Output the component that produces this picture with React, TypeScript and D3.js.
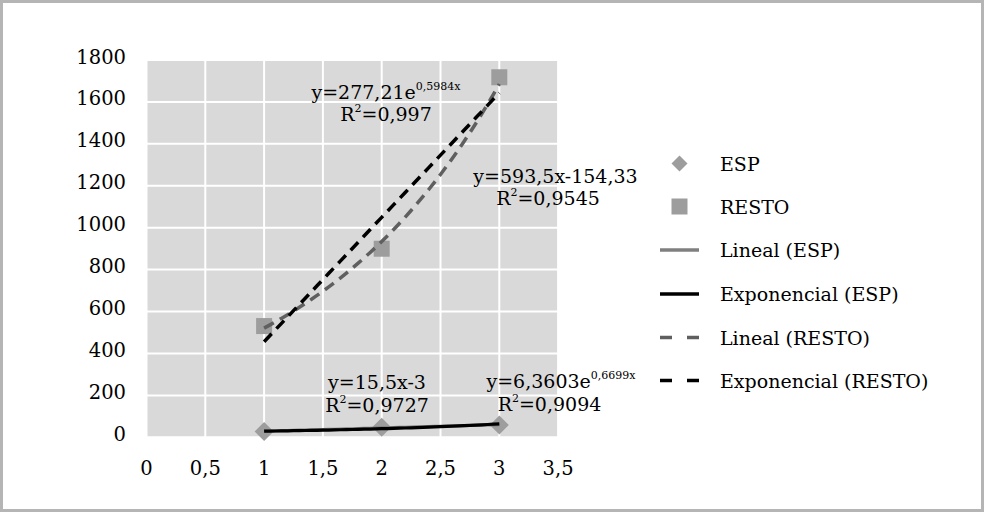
import React from "react";
import * as d3 from "d3";

const xValues = [1, 2, 3];
const espValues = [11, 31, 42];
const restoValues = [514, 883, 1701];
const yTicks = [0, 200, 400, 600, 800, 1000, 1200, 1400, 1600, 1800];
const xTicks = [0, 0.5, 1, 1.5, 2, 2.5, 3, 3.5];
const xTickLabels = ["0", "0,5", "1", "1,5", "2", "2,5", "3", "3,5"];
const legendLabels = ["ESP", "RESTO", "Lineal (ESP)", "Exponencial (ESP)", "Lineal (RESTO)", "Exponencial (RESTO)"];

const W = 984;
const H = 512;
const FONT = "'DejaVu Serif', serif";

function linFit(xs: number[], ys: number[]) {
  const mx = d3.mean(xs)!;
  const my = d3.mean(ys)!;
  let num = 0, den = 0;
  xs.forEach((x, i) => { num += (x - mx) * (ys[i] - my); den += (x - mx) ** 2; });
  const b = num / den;
  const a = my - b * mx;
  return (x: number) => a + b * x;
}
function expFit(xs: number[], ys: number[]) {
  const f = linFit(xs, ys.map((v) => Math.log(v)));
  return (x: number) => Math.exp(f(x));
}

export default function App() {
  const x = d3.scaleLinear().domain([0, 3.5]).range([146.5, 558.1]);
  const y = d3.scaleLinear().domain([0, 1800]).range([437.3, 60]);
  const shift = -3.5;

  const samples = d3.range(0, 41).map((i) => 1 + (i * 2) / 40);
  const lineGen = (f: (v: number) => number) =>
    d3.line<number>().x((v) => x(v)).y((v) => y(f(v)))(samples) || "";

  const espLin = linFit(xValues, espValues);
  const espExp = expFit(xValues, espValues);
  const restoLin = linFit(xValues, restoValues);
  const restoExp = expFit(xValues, restoValues);

  const markerColor = "#9d9d9d";
  const diamond = (cx: number, cy: number, r: number) =>
    `M${cx},${cy - r}L${cx + r},${cy}L${cx},${cy + r}L${cx - r},${cy}Z`;

  const legendY = [163.5, 206.5, 250, 294, 337.5, 380.5];
  const lgX0 = 660, lgX1 = 699, lgTx = 720;

  return (
    <svg width={W} height={H} style={{ position: "absolute", left: 0, top: 0, display: "block" }} fontFamily={FONT}>
      <rect x={0} y={0} width={W} height={H} fill="#ffffff" />
      <rect x={1.5} y={1.5} width={W - 3} height={H - 3} fill="none" stroke="#b5b5b5" strokeWidth={3} />

      {/* plot area */}
      <rect x={x(0)} y={y(1800)} width={x(3.5) - x(0)} height={y(0) - y(1800)} fill="#d9d9d9" />
      {yTicks.map((t) => (
        <line key={"gy" + t} x1={x(0)} x2={x(3.5)} y1={y(t)} y2={y(t)} stroke="#ffffff" strokeWidth={2} />
      ))}
      {xTicks.map((t) => (
        <line key={"gx" + t} x1={x(t)} x2={x(t)} y1={y(1800)} y2={y(0)} stroke="#ffffff" strokeWidth={2} />
      ))}

      {/* y labels */}
      {yTicks.map((t) => (
        <text key={"ly" + t} x={126} y={y(t) - 3} textAnchor="end" dominantBaseline="central" fontSize={19.5} fill="#000">
          {t}
        </text>
      ))}
      {/* x labels */}
      {xTicks.map((t, i) => (
        <text key={"lx" + t} x={x(t)} y={468} textAnchor="middle" dominantBaseline="central" fontSize={19.5} fill="#000">
          {xTickLabels[i]}
        </text>
      ))}

      <g transform={`translate(0,${shift})`}>
        {/* markers */}
        {xValues.map((v, i) => (
          <rect key={"sq" + i} x={x(v) - 8} y={y(restoValues[i]) - 8} width={16} height={16} fill={markerColor} />
        ))}
        {xValues.map((v, i) => (
          <path key={"dm" + i} d={diamond(x(v), y(espValues[i]), 9.5)} fill={markerColor} />
        ))}
        {/* trend lines */}
        <path d={lineGen(espLin)} fill="none" stroke="#7f7f7f" strokeWidth={3.2} />
        <path d={lineGen(espExp)} fill="none" stroke="#000000" strokeWidth={3.2} />
        <path d={lineGen(restoExp)} fill="none" stroke="#5f5f5f" strokeWidth={3.5} strokeDasharray="11,7" />
        <path d={lineGen(restoLin)} fill="none" stroke="#000000" strokeWidth={3.5} strokeDasharray="11,7" />
      </g>

      {/* equation labels */}
      <g fontSize={19} fill="#000">
        <text x={386} y={92} textAnchor="middle" dominantBaseline="central">
          y=277,21e<tspan fontSize={11} dy={-6}>0,5984x</tspan>
        </text>
        <text x={386} y={114} textAnchor="middle" dominantBaseline="central">
          R<tspan fontSize={11} dy={-6}>2</tspan><tspan dy={6}>=0,997</tspan>
        </text>
        <text x={555.5} y={176} textAnchor="middle" dominantBaseline="central">y=593,5x-154,33</text>
        <text x={548} y={198} textAnchor="middle" dominantBaseline="central">
          R<tspan fontSize={11} dy={-6}>2</tspan><tspan dy={6}>=0,9545</tspan>
        </text>
        <text x={377} y={381.5} textAnchor="middle" dominantBaseline="central">y=15,5x-3</text>
        <text x={377} y={404.5} textAnchor="middle" dominantBaseline="central">
          R<tspan fontSize={11} dy={-6}>2</tspan><tspan dy={6}>=0,9727</tspan>
        </text>
        <text x={561} y={381} textAnchor="middle" dominantBaseline="central">
          y=6,3603e<tspan fontSize={11} dy={-6}>0,6699x</tspan>
        </text>
        <text x={549.5} y={404} textAnchor="middle" dominantBaseline="central">
          R<tspan fontSize={11} dy={-6}>2</tspan><tspan dy={6}>=0,9094</tspan>
        </text>
      </g>

      {/* legend */}
      <path d={diamond((lgX0 + lgX1) / 2, legendY[0], 8)} fill={markerColor} />
      <rect x={(lgX0 + lgX1) / 2 - 8} y={legendY[1] - 8} width={16} height={16} fill={markerColor} />
      <line x1={lgX0} x2={lgX1} y1={legendY[2]} y2={legendY[2]} stroke="#7f7f7f" strokeWidth={3.5} />
      <line x1={lgX0} x2={lgX1} y1={legendY[3]} y2={legendY[3]} stroke="#000" strokeWidth={3.5} />
      <line x1={lgX0} x2={lgX1} y1={legendY[4]} y2={legendY[4]} stroke="#5f5f5f" strokeWidth={3.5} strokeDasharray="12,15" />
      <line x1={lgX0} x2={lgX1} y1={legendY[5]} y2={legendY[5]} stroke="#000" strokeWidth={3.5} strokeDasharray="12,15" />
      {legendLabels.map((l, i) => (
        <text key={l} x={lgTx} y={legendY[i]} dominantBaseline="central" fontSize={19} fill="#000">
          {l}
        </text>
      ))}
    </svg>
  );
}
